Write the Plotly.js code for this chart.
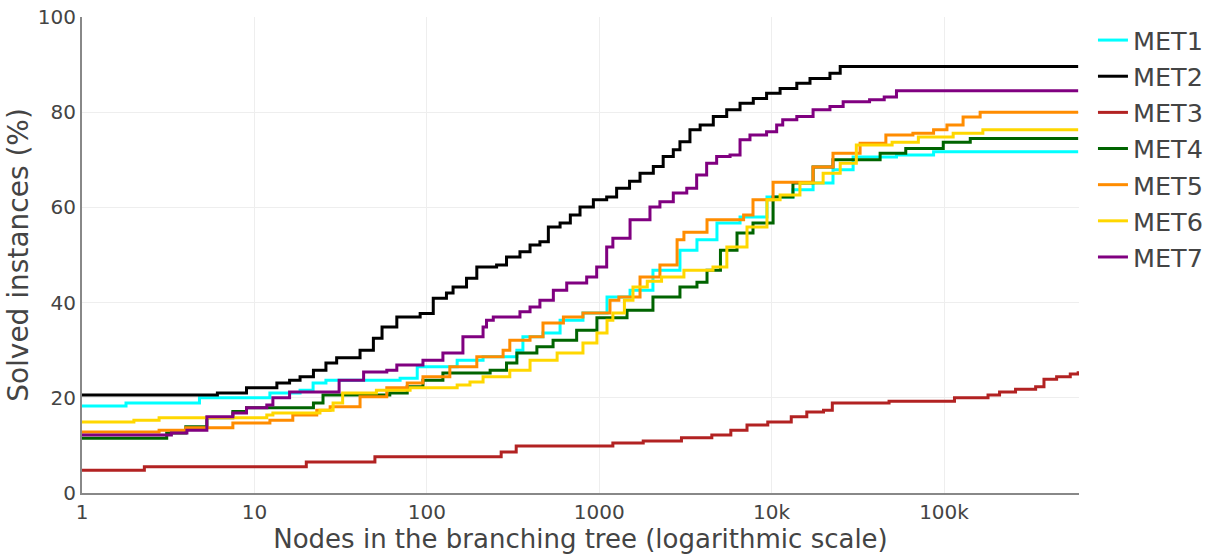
<!DOCTYPE html>
<html>
<head>
<meta charset="utf-8">
<script src="https://cdn.plot.ly/plotly-3.0.1.min.js"></script>
<style>html,body{margin:0;padding:0;background:#fff;}#chart{width:1214px;height:558px;}</style>
</head>
<body>
<div id="chart"></div>
<script>
// Series names and colours
const seriesNames = ["MET1", "MET2", "MET3", "MET4", "MET5", "MET6", "MET7"];
const seriesColors = ["#00FFFF", "#000000", "#B22222", "#006400", "#FF8C00", "#FFD700", "#800080"];

// Nodes (x) and solved instances % (y), step points
const met1X = [1, 1.8, 4.8, 12.3, 18.4, 21.9, 26, 70, 88, 150, 212, 333, 361, 472, 593, 805, 1110, 1510, 2050, 2940, 3690, 4820, 6560, 9400, 13300, 17400, 22700, 29700, 53000, 87000, 600000];
const met1Y = [18.3, 18.9, 20, 21, 21.6, 23.1, 23.7, 24.1, 26.5, 27.9, 28.6, 30, 32.8, 33.6, 36.3, 37.8, 41.2, 42.6, 46.8, 51, 53.2, 56.7, 58, 62.2, 63.7, 65.1, 67.9, 70.6, 71, 71.7, 71.7];

const met2X = [1, 6.1, 9, 13.5, 16, 18.4, 22, 26, 30, 41, 49, 55, 67, 91.5, 109, 130, 142, 170, 195, 254, 290, 347, 397, 453, 507, 593, 680, 774, 925, 1105, 1262, 1500, 1725, 2060, 2350, 2690, 2940, 3360, 3850, 4590, 5490, 6560, 7830, 9350, 11200, 14000, 16700, 21800, 25000, 600000];
const met2Y = [20.6, 21, 22.1, 23.1, 23.7, 24.4, 25.8, 27.3, 28.4, 30, 32.5, 34.9, 37, 37.7, 40.9, 42, 43.3, 45.1, 47.5, 47.9, 49.6, 50.7, 52.1, 52.8, 55.9, 56.7, 58.4, 60.1, 61.6, 62.2, 64, 65.5, 67.2, 68.6, 70.7, 72.1, 73.8, 76.3, 77.3, 79.1, 80.5, 81.9, 82.9, 84, 85, 86.1, 87.1, 88.2, 89.6, 89.6];

const met3X = [1, 2.3, 20, 50, 270, 330, 1200, 1800, 3000, 4500, 5800, 7200, 9500, 13000, 16000, 20000, 22500, 48000, 115000, 180000, 210000, 260000, 340000, 380000, 450000, 540000, 600000];
const met3Y = [4.8, 5.5, 6.5, 7.6, 8.6, 9.9, 10.5, 10.9, 11.6, 12.2, 13.2, 14.3, 14.9, 16, 17, 17.4, 18.9, 19.3, 20, 20.6, 21.2, 21.8, 22.3, 23.9, 24.4, 25, 25.6];

const met4X = [1, 3.1, 4, 5.3, 7.5, 9, 22, 25, 61, 77, 95, 124, 233, 290, 333, 435, 540, 740, 970, 1450, 2050, 2940, 3690, 4220, 5050, 6300, 7800, 10200, 13300, 17400, 22700, 42600, 60000, 99000, 142000, 600000];
const met4Y = [11.5, 12.6, 13.9, 15.8, 17.1, 17.9, 18.9, 20.6, 21, 22.3, 23.7, 25.2, 25.8, 27.3, 29.4, 30.7, 32.1, 34.2, 36.8, 38.4, 41.2, 43.3, 44.3, 46.8, 51, 54.6, 56.7, 62.2, 65.1, 68.5, 70, 71.4, 72.4, 73.7, 74.5, 74.5];

const met5X = [1, 2.8, 4, 7.5, 12.3, 16.7, 23, 27.5, 41, 58.6, 77, 95, 136, 195, 277, 303, 397, 472, 620, 805, 1155, 1300, 1725, 2250, 2830, 3100, 4220, 6880, 7800, 10200, 17400, 22700, 32600, 46000, 66000, 87000, 104000, 129000, 162000, 600000];
const met5Y = [12.8, 13.2, 13.7, 14.7, 15.3, 16.4, 17.4, 18.1, 20.2, 22.1, 23.1, 24.4, 26.5, 28.6, 30, 32.1, 32.8, 35.7, 37, 37.8, 40.5, 41.2, 45.4, 47.9, 53.2, 54.8, 57.4, 58.4, 61.6, 65.3, 68.5, 71.4, 73.5, 75.2, 75.6, 76.3, 77.3, 79, 80, 80];

const met6X = [1, 2, 2.8, 11.8, 12.8, 24, 28.6, 32.5, 51, 80, 150, 178, 212, 303, 397, 570, 805, 970, 1110, 1200, 1400, 1570, 1900, 2300, 3100, 4570, 5500, 7200, 9400, 11200, 14600, 19900, 25000, 31000, 50000, 71000, 113000, 168000, 600000];
const met6Y = [14.9, 15.3, 15.8, 16.4, 16.8, 17.4, 18.9, 21, 21.6, 22.1, 22.7, 23.3, 24.4, 25.8, 27.9, 29.4, 31.5, 33.6, 36.3, 37.8, 40.5, 43.3, 44.5, 45.4, 46.8, 47.5, 51.7, 55.9, 61.6, 62.6, 65.1, 67.2, 69.3, 73.1, 73.7, 74.8, 75.6, 76.3, 76.3];

const met7X = [1, 3.3, 4.06, 5.3, 7.5, 9, 11.8, 12.8, 16, 31, 43, 58.6, 67, 95, 124, 162, 212, 222, 243, 347, 397, 453, 542, 648, 846, 967, 1105, 1200, 1510, 1970, 2250, 2690, 3220, 3675, 4200, 4800, 5740, 6560, 7490, 9350, 10700, 11600, 14000, 17400, 21800, 26000, 37000, 45000, 53000, 600000];
const met7Y = [12.2, 12.6, 13.2, 16, 16.8, 17.9, 18.5, 20, 21.2, 23.7, 25.4, 25.8, 26.9, 27.9, 29.4, 32.8, 34.9, 36.3, 37, 38.1, 39.1, 40.5, 42.6, 44.1, 45.4, 47.5, 51.7, 53.5, 57.4, 60.1, 61.2, 63, 64, 66.8, 69.3, 70.7, 71, 74.2, 75.2, 75.9, 77.3, 78.4, 79.1, 80.5, 81.2, 82.2, 82.6, 83.2, 84.5, 84.5];

// Axis ticks
const xTickVals = [1, 10, 100, 1000, 10000, 100000];
const xTickText = ["1", "10", "100", "1000", "10k", "100k"];
const yTickVals = [0, 20, 40, 60, 80, 100];

const allX = [met1X, met2X, met3X, met4X, met5X, met6X, met7X];
const allY = [met1Y, met2Y, met3Y, met4Y, met5Y, met6Y, met7Y];

const traces = seriesNames.map((name, i) => ({
  type: "scatter",
  mode: "lines",
  name: name,
  x: allX[i],
  y: allY[i],
  line: { color: seriesColors[i], width: 3, shape: "hv" }
}));

const fontFamily = "DejaVu Sans, Verdana, sans-serif";

const layout = {
  width: 1214,
  height: 558,
  margin: { l: 82, r: 135, t: 17, b: 65 },
  paper_bgcolor: "#ffffff",
  plot_bgcolor: "#ffffff",
  font: { family: fontFamily, color: "#444444", size: 20 },
  showlegend: true,
  legend: {
    font: { size: 25.5, family: fontFamily, color: "#444444" },
    xref: "container", x: 0.9003, xanchor: "left",
    yref: "paper", y: 1, yanchor: "top",
    bgcolor: "rgba(255,255,255,0)"
  },
  xaxis: {
    type: "log",
    range: [0, 5.783],
    tickvals: xTickVals,
    ticktext: xTickText,
    showgrid: true,
    gridcolor: "#eeeeee",
    showline: true,
    linecolor: "#888888",
    linewidth: 2,
    zeroline: false,
    tickfont: { size: 20 },
    title: { text: "Nodes in the branching tree (logarithmic scale)", font: { size: 26 }, standoff: 7 }
  },
  yaxis: {
    range: [0, 100],
    tickvals: yTickVals,
    showgrid: true,
    gridcolor: "#eeeeee",
    showline: true,
    linecolor: "#888888",
    linewidth: 2,
    zeroline: false,
    tickfont: { size: 20 },
    title: { text: "Solved instances (%)", font: { size: 28 }, standoff: 1 }
  }
};

Plotly.newPlot("chart", traces, layout, { displayModeBar: false, staticPlot: true });
</script>
</body>
</html>
